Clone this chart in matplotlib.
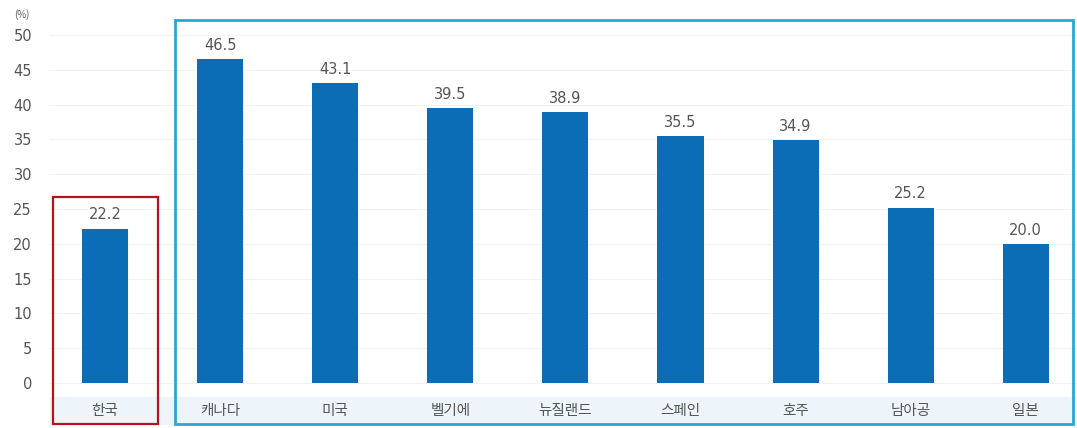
import matplotlib.pyplot as plt
from matplotlib.patches import Rectangle

plt.rcParams['font.family'] = ['Noto Sans CJK KR', 'DejaVu Sans']

countries = ["한국", "캐나다", "미국", "벨기에", "뉴질랜드", "스페인", "호주", "남아공", "일본"]
values = [22.2, 46.5, 43.1, 39.5, 38.9, 35.5, 34.9, 25.2, 20.0]
yticks = [0, 5, 10, 15, 20, 25, 30, 35, 40, 45, 50]

bar_color = "#0a6db6"
text_color = "#555555"
num_font = ["DejaVu Sans"]

fig = plt.figure(figsize=(10.77, 4.28), dpi=100)
ax = fig.add_axes([50 / 1077, 3 / 428, 1 - 50 / 1077, 405 / 428])
ax.set_xlim(-0.478, 8.445)
ax.set_ylim(-6.03, 52.16)

x = list(range(len(countries)))
for yt in yticks:
    ax.axhline(yt, color="#f3f3f3", lw=0.8, zorder=0)

ax.bar(x, values, width=0.40, color=bar_color, zorder=2)
for xi, v in zip(x, values):
    ax.text(xi, v + 0.9, f"{v:.1f}", ha="center", va="bottom",
            fontsize=10.5, color=text_color, family=num_font)

# category band
ax.axhspan(-6.03, -2.0, color="#edf5fb", zorder=1, lw=0)
for xi, c in zip(x, countries):
    ax.text(xi, -4.0, c, ha="center", va="center", fontsize=10.5, color=text_color)

# highlight boxes
ax.add_patch(Rectangle((-0.452, -5.95), 0.912, 32.65, fill=False,
                       edgecolor="#b5121b", lw=1.6, clip_on=False, zorder=4))
ax.add_patch(Rectangle((0.608, -5.95), 7.80, 58.05, fill=False,
                       edgecolor="#2aa6d8", lw=2.0, clip_on=False, zorder=4))

ax.set_xticks([])
ax.set_yticks(yticks)
ax.set_yticklabels([str(t) for t in yticks], fontsize=10.5, color=text_color,
                   family=num_font)
ax.tick_params(axis="y", length=0, pad=13)
for s in ax.spines.values():
    s.set_visible(False)

fig.text(22 / 1077, 1 - 15 / 428, "(%)", fontsize=7, color=text_color,
         ha="center", va="center")

fig.savefig("out.png", dpi=100)
